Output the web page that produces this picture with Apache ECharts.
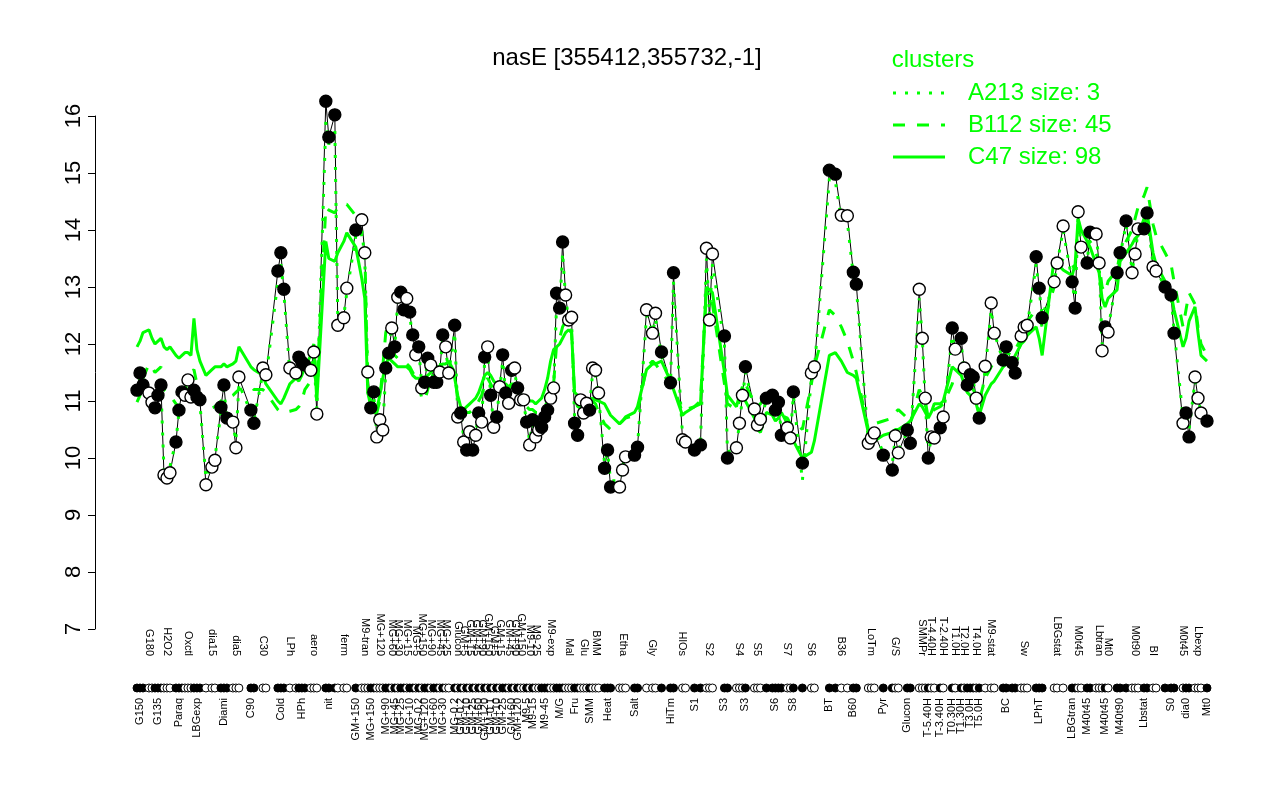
<!DOCTYPE html>
<html>
<head>
<meta charset="utf-8">
<title>nasE</title>
<script src="https://cdn.jsdelivr.net/npm/echarts@6.0.0/dist/echarts.min.js"></script>
<style>
  html, body { margin: 0; padding: 0; background: #fff; }
  #chart { width: 1280px; height: 800px; }
</style>
</head>
<body>
<div id="chart"></div>
<script>
// Samples in plotting order. '' is an empty position between samples.
const categories = [
  'G150','G150','G150','',
  'G180','G180',
  'G135','G135','G135',
  'H2O2','H2O2','H2O2','',
  'Paraq','Paraq','Paraq',
  'Oxctl','Oxctl','Oxctl',
  'LBGexp','LBGexp','LBGexp','',
  'dia15','','dia15','dia15','',
  'Diami','Diami','Diami','',
  'dia5','dia5','dia5','','','',
  'C90','C90','','',
  'C30','C30','','','',
  'Cold','Cold','Cold','',
  'LPh','','LPh',
  'HPh','HPh','HPh','',
  'aero','aero','aero','','',
  'nit','nit','','nit',
  'ferm','','ferm','ferm','','',
  'GM+150','',
  'M9-tran','M9-tran','M9-tran',
  'MG+150','MG+150',
  'MG+120','MG+120','MG+120',
  'MG+90','MG+90',
  'MG+60',
  'MG+45',
  'MG+30',
  'MG+25','MG+25',
  'MG+15',
  'MG+10','MG+10',
  'MG+5',
  'MG-0.2',
  'MG+150',
  'MG+120','MG+120',
  'MG+90',
  'MG+60','MG+60',
  'MG+45',
  'MG+30',
  'MG+25','MG+25','',
  'MG-0.2',
  'Glucon',
  'GM-0.2',
  'GM+5',
  'GM+10',
  'GM+15',
  'GM+25',
  'GM+45',
  'GM+60',
  'GM+90',
  'GM+120',
  'GM+150',
  'GM-0.1',
  'GM+5',
  'GM+10',
  'GM+15',
  'GM+25','GM+25',
  'GM+45',
  'GM+60',
  'GM+90',
  'GM+120',
  'GM+150','GM+150',
  'M9-5',
  'M9-10',
  'M9-15',
  'M9-25','M9-25',
  'M9-45','M9-45','M9-45',
  'M9-exp','M9-exp',
  'M/G','M/G','M/G',
  'Mal','Mal','Mal',
  'Fru','Fru',
  'Glu','Glu','Glu',
  'SMM',
  'BMM','BMM','BMM','',
  'Heat','Heat','Heat','','',
  'Etha','Etha','Etha','','',
  'Salt','Salt','','',
  'Gly','','Gly','Gly','',
  'HiTm','','','HiTm','HiTm','','',
  'HlOs','HlOs','','',
  'S1','','S1','',
  'S2','S2','S2','','','',
  'S3','S3','','',
  'S4','S4','S4',
  'S3','','',
  'S5','S5','S5','',
  'S6','','S6','S6','S6','S6','',
  'S7','S7',
  'S8','','','S8','','',
  'S6','S6','','','','',
  'BT','','BT','',
  'B36','','B36','',
  'B60','B60','','','',
  'LoTm','LoTm','LoTm','','',
  'Pyr','','','Pyr',
  'G/S','G/S','','',
  'Glucon','Glucon','','',
  'SMMPr','SMMPr','SMMPr',
  'T-5.40H',
  'T-4.40H','T-4.40H','',
  'T-3.40H',
  'T-2.40H','','',
  'T0.30H',
  'T1.0H','',
  'T1.30H',
  'T2.0H',
  'T3.0H','T3.0H','T3.0H',
  'T4.0H',
  'T5.0H','',
  'M9-stat','','M9-stat','M9-stat','','',
  'BC','BC','','BC','BC','',
  'Sw','Sw','Sw','','',
  'LPhT','LPhT','LPhT','','','',
  'LBGstat','LBGstat','','LBGstat','','',
  'LBGtran','LBGtran',
  'M0t45','M0t45','',
  'M40t45','M40t45','',
  'Lbtran','Lbtran','Lbtran',
  'M40t45',
  'Mt0','','',
  'M40t90','M40t90','','M40t90','',
  'M0t90','M0t90','M0t90','',
  'Lbstat','Lbstat','',
  'BI','BI','','',
  'S0','','S0','S0','','',
  'M0t45',
  'dia0','dia0','',
  'Lbexp','Lbexp','Lbexp','',
  'Mt0'
];

// nasE expression, one value per sample
const expr = [
  11.19, 11.49, 11.28, 11.14, 10.98, 10.88, 11.10, 11.28, 9.70, 9.65,
  9.74, 10.28, 10.84, 11.16, 11.10, 11.37, 11.07, 11.19, 11.07, 11.02,
  9.53, 9.84, 9.96, 10.89, 11.28, 10.70, 10.63, 10.18, 11.42, 10.84,
  10.61, 11.58, 11.46, 13.28, 13.60, 12.96, 11.58, 11.49, 11.77, 11.68,
  11.63, 11.54, 11.86, 10.77, 16.26, 15.63, 16.02, 12.33, 12.46, 12.98,
  14.00, 14.18, 13.60, 11.51, 10.88, 11.16, 10.37, 10.67, 10.49, 11.58,
  11.84, 12.28, 11.95, 12.82, 12.91, 12.60, 12.80, 12.56, 12.16, 11.81,
  11.95, 11.23, 11.33, 11.75, 11.63, 11.33, 11.33, 11.51, 12.16, 11.95,
  11.49, 12.33, 10.72, 10.79, 10.28, 10.14, 10.46, 10.14, 10.40, 10.79,
  10.63, 11.77, 11.95, 11.10, 10.54, 10.72, 11.25, 11.81, 11.14, 10.96,
  11.54, 11.58, 11.23, 11.02, 11.02, 10.63, 10.23, 10.67, 10.37, 10.49,
  10.54, 10.72, 10.84, 11.05, 11.23, 12.89, 12.63, 13.79, 12.86, 12.42,
  12.47, 10.61, 10.40, 11.02, 10.79, 10.96, 10.84, 11.58, 11.54, 11.14,
  9.82, 10.14, 9.49, 9.49, 9.79, 10.02, 10.05, 10.19, 12.60, 12.19,
  12.54, 11.86, 11.32, 13.25, 10.32, 10.28, 10.14, 10.23, 13.68, 12.42,
  13.58, 12.14, 10.00, 10.18, 10.61, 11.10, 11.60, 10.86, 10.58, 10.68,
  11.05, 11.10, 10.84, 10.98, 10.40, 10.53, 10.35, 11.16, 9.91, 11.49,
  11.60, 15.05, 14.98, 14.26, 14.25, 13.26, 13.05, 10.26, 10.35, 10.44,
  10.05, 9.79, 10.39, 10.09, 10.49, 10.26, 12.96, 12.10, 11.05, 10.00,
  10.37, 10.35, 10.53, 10.72, 12.28, 11.91, 12.10, 11.58, 11.28, 11.46,
  11.42, 11.05, 10.70, 11.61, 12.72, 12.19, 11.72, 11.95, 11.67, 11.49,
  12.14, 12.30, 12.33, 13.53, 12.98, 12.46, 13.09, 13.42, 14.07, 13.09,
  12.63, 14.32, 13.70, 13.42, 13.96, 13.93, 13.42, 11.88, 12.30, 12.21,
  13.25, 13.60, 14.16, 13.25, 13.58, 14.02, 14.02, 14.30, 13.35, 13.28,
  13.00, 12.86, 12.19, 10.61, 10.79, 10.37, 11.42, 11.05, 10.79, 10.65
];

// cluster profiles (green lines)
const clusterA213 = [
  11.15, 11.40, 11.25, 11.10, 11.00, 10.90, 11.05, 11.20, 9.80, 9.75,
  9.85, 10.30, 10.80, 11.10, 11.05, 11.30, 11.05, 11.15, 11.00, 10.95,
  9.65, 9.90, 10.00, 10.80, 11.20, 10.70, 10.60, 10.30, 11.30, 10.80,
  10.65, 11.50, 11.40, 13.10, 13.40, 12.90, 11.50, 11.45, 11.70, 11.60,
  11.60, 11.50, 11.80, 10.85, 15.90, 15.50, 15.80, 12.40, 12.50, 12.90,
  13.90, 14.00, 13.50, 11.45, 10.90, 11.10, 10.45, 10.65, 10.55, 11.50,
  11.80, 12.20, 11.95, 12.75, 12.85, 12.60, 12.70, 12.50, 12.10, 11.85,
  11.90, 11.30, 11.35, 11.70, 11.60, 11.35, 11.40, 11.50, 12.10, 11.90,
  11.50, 12.20, 10.80, 10.80, 10.35, 10.25, 10.50, 10.25, 10.45, 10.75,
  10.65, 11.70, 11.85, 11.10, 10.60, 10.75, 11.20, 11.70, 11.15, 11.00,
  11.50, 11.50, 11.20, 11.00, 10.95, 10.65, 10.30, 10.60, 10.40, 10.50,
  10.55, 10.70, 10.80, 11.00, 11.20, 12.70, 12.60, 13.60, 12.80, 12.45,
  12.40, 10.70, 10.50, 11.00, 10.80, 10.90, 10.85, 11.50, 11.45, 11.10,
  9.90, 10.10, 9.60, 9.60, 9.85, 10.05, 10.10, 10.20, 12.50, 12.20,
  12.45, 11.80, 11.30, 13.10, 10.40, 10.35, 10.20, 10.25, 13.50, 12.50,
  13.40, 12.00, 10.10, 10.20, 10.60, 11.05, 11.50, 10.85, 10.60, 10.70,
  11.00, 11.05, 10.85, 10.95, 10.45, 10.55, 10.40, 11.10, 9.60, 11.40,
  11.55, 14.90, 14.85, 14.20, 14.15, 13.20, 13.00, 10.30, 10.40, 10.45,
  10.10, 9.90, 10.35, 10.15, 10.45, 10.30, 12.80, 12.10, 11.00, 10.05,
  10.35, 10.40, 10.50, 10.70, 12.15, 11.90, 12.00, 11.55, 11.30, 11.40,
  11.35, 11.05, 10.75, 11.55, 12.60, 12.20, 11.70, 11.90, 11.65, 11.50,
  12.10, 12.25, 12.30, 13.40, 12.95, 12.50, 13.05, 13.40, 14.00, 13.10,
  12.70, 14.25, 13.70, 13.45, 13.90, 13.90, 13.45, 12.00, 12.30, 12.25,
  13.20, 13.55, 14.10, 13.30, 13.55, 14.00, 14.05, 14.25, 13.40, 13.30,
  13.00, 12.85, 12.25, 10.70, 10.80, 10.50, 11.35, 11.05, 10.80, 10.70
];

const clusterB112 = [
  10.98, 11.10, 11.40, 11.65, 11.60, 11.50, 11.55, 11.60, 11.20, 11.15,
  11.10, 10.95, 10.90, 11.00, 11.20, 11.40, 11.50, 11.55, 11.30, 11.05,
  10.90, 10.88, 10.90, 11.00, 11.05, 11.05, 11.10, 11.15, 11.20, 11.25,
  11.20, 11.20, 11.15, 10.85, 10.80, 10.80, 10.82, 10.85, 10.90, 11.00,
  11.20, 11.35, 11.50, 11.30, 14.40, 14.35, 14.30, 14.40, 14.45, 14.45,
  14.25, 13.90, 13.70, 11.15, 10.90, 10.80, 10.79, 11.00, 11.60, 12.20,
  12.40, 12.00, 11.80, 11.75, 11.70, 11.70, 11.65, 11.60, 11.50, 11.40,
  11.30, 11.05, 11.00, 11.20, 11.40, 11.45, 11.50, 11.60, 11.70, 11.75,
  11.70, 11.50, 11.00, 10.90, 10.85, 10.80, 10.80, 10.85, 10.90, 11.00,
  11.10, 11.30, 11.40, 11.30, 11.20, 11.15, 11.20, 11.30, 11.25, 11.15,
  11.20, 11.25, 11.15, 11.05, 11.00, 10.90, 10.85, 10.85, 10.80, 10.80,
  10.85, 10.90, 11.00, 11.10, 11.30, 12.00, 12.10, 12.30, 12.40, 12.30,
  12.20, 11.10, 10.90, 10.90, 10.85, 10.90, 10.95, 11.00, 10.95, 10.80,
  10.60, 10.55, 10.50, 10.60, 10.65, 10.70, 10.75, 10.80, 11.60, 11.70,
  11.65, 11.50, 11.30, 11.25, 10.80, 10.85, 10.90, 11.00, 13.00, 12.80,
  12.70, 11.30, 10.95, 10.85, 11.00, 11.20, 11.30, 10.95, 10.90, 10.95,
  11.10, 11.15, 11.00, 10.90, 10.75, 10.70, 10.60, 10.65, 10.50, 11.30,
  11.60, 12.60, 12.50, 12.30, 12.05, 11.70, 11.50, 10.50, 10.55, 10.60,
  10.65, 10.70, 10.80, 10.85, 10.70, 10.60, 11.20, 11.10, 11.00, 10.70,
  10.80, 10.85, 10.90, 10.95, 11.30, 11.50, 11.60, 11.40, 11.30, 11.25,
  11.20, 11.10, 11.00, 11.40, 11.60, 11.70, 11.80, 11.85, 11.80, 11.90,
  12.10, 12.30, 12.40, 12.60, 12.50, 12.30, 13.00, 13.30, 13.50, 13.40,
  13.30, 14.10, 13.90, 13.70, 13.80, 13.60, 13.40, 13.00, 12.90, 13.10,
  13.30, 13.60, 13.80, 14.00, 14.20, 14.40, 14.60, 14.75, 14.10, 13.90,
  13.60, 13.40, 13.10, 12.30, 12.60, 12.90, 12.70, 12.30, 12.00, 11.80
];

const clusterC47 = [
  11.95, 12.05, 12.20, 12.25, 12.10, 12.00, 12.05, 12.10, 11.95, 11.90,
  11.95, 11.80, 11.75, 11.80, 11.85, 11.85, 11.80, 12.45, 11.90, 11.70,
  11.45, 11.55, 11.60, 11.60, 11.65, 11.60, 11.65, 11.70, 11.95, 11.60,
  11.55, 11.45, 11.30, 11.00, 10.95, 11.05, 11.30, 11.40, 11.35, 11.45,
  11.60, 11.80, 12.00, 11.00, 13.80, 13.50, 13.45, 13.60, 13.80, 13.95,
  13.70, 13.15, 12.80, 11.15, 11.00, 10.90, 10.85, 11.10, 11.40, 11.65,
  11.75, 11.70, 11.65, 11.60, 11.60, 11.60, 11.60, 11.55, 11.45, 11.40,
  11.40, 11.37, 11.40, 11.45, 11.50, 11.55, 11.60, 11.60, 11.65, 11.65,
  11.70, 11.40, 11.10, 10.90, 10.85, 10.90, 10.95, 11.00, 11.05, 11.15,
  11.30, 11.45, 11.50, 11.45, 11.35, 11.30, 11.25, 11.30, 11.30, 11.25,
  11.30, 11.30, 11.20, 11.10, 11.07, 11.05, 11.00, 11.00, 10.95, 11.00,
  11.05, 11.20, 11.40, 11.70, 11.90, 11.95, 12.00, 12.10, 12.20, 12.25,
  12.20, 11.15, 11.10, 11.05, 11.02, 11.00, 11.02, 11.05, 11.02, 11.00,
  10.95, 10.85, 10.75, 10.60, 10.65, 10.72, 10.80, 10.90, 11.55, 11.65,
  11.65, 11.70, 11.35, 11.20, 10.75, 10.80, 10.90, 10.95, 13.00, 12.95,
  12.90, 11.50, 11.10, 10.90, 11.10, 11.25, 11.00, 10.70, 10.50, 10.45,
  10.80, 10.75, 10.65, 10.70, 10.80, 10.60, 10.45, 10.30, 10.00, 10.10,
  10.30, 11.80, 11.85, 11.70, 11.50, 11.45, 11.40, 10.45, 10.30, 10.30,
  10.40, 10.45, 10.50, 10.50, 10.60, 10.65, 10.95, 10.90, 10.80, 10.70,
  10.80, 10.95, 10.95, 11.00, 11.60, 11.55, 11.45, 11.30, 11.15, 11.10,
  11.00, 10.95, 10.75, 11.10, 11.30, 11.35, 11.60, 11.65, 11.70, 11.80,
  12.00, 12.05, 12.15, 12.30, 12.10, 11.80, 13.50, 13.40, 13.30, 13.20,
  13.40, 14.20, 14.00, 13.80, 13.70, 13.40, 13.25, 12.80, 12.65, 12.80,
  12.95, 13.45, 13.60, 13.75, 13.85, 13.90, 14.20, 14.30, 13.60, 13.40,
  13.10, 12.90, 12.60, 11.95, 12.10, 12.40, 12.65, 12.20, 11.80, 11.70
];

const clusterNames = ['A213', 'B112', 'C47'];
const clusterSizes = [3, 45, 98];
const clusterDash = [[3, 9], [12, 12], null];
const clusterData = [clusterA213, clusterB112, clusterC47];
const chartTitle = 'nasE [355412,355732,-1]';

const GREEN = '#00ff00';
const FONT = '"Liberation Sans", Arial, sans-serif';

// map each axis position to its sample (or -1 for an empty position)
const slot = [];
let nSamples = 0;
categories.forEach(c => slot.push(c === '' ? -1 : nSamples++));
if (nSamples !== expr.length) console.warn('sample count mismatch', nSamples, expr.length);
const aligned = arr => slot.map(j => (j < 0 ? null : arr[j]));

// consecutive samples with the same name form a condition group;
// groups alternate filled / open symbols, labels go below / above
const groupOf = [];
const groups = [];
let prevName = null;
categories.forEach((c, i) => {
  if (c === '') { groupOf.push(-1); return; }
  if (c !== prevName) groups.push([]);
  groups[groups.length - 1].push(i);
  groupOf.push(groups.length - 1);
  prevName = c;
});
const isFilled = i => groupOf[i] % 2 === 0;
const labelSide = categories.map(() => null);
groups.forEach((g, k) => {
  labelSide[g[Math.floor((g.length - 1) / 2)]] = k % 2 === 0 ? 'bottom' : 'top';
});

const exprAligned = aligned(expr);
const marker = (v, i) => (v == null ? '-' : { value: v, itemStyle: { color: isFilled(i) ? '#000' : '#fff' } });

const chart = echarts.init(document.getElementById('chart'));

const graphic = [
  { type: 'text', x: 627, y: 58,
    style: { text: chartTitle, font: '24px ' + FONT, fill: '#000', align: 'center', verticalAlign: 'middle' } },
  { type: 'text', x: 933, y: 60,
    style: { text: 'clusters', font: '24px ' + FONT, fill: GREEN, align: 'center', verticalAlign: 'middle' } }
];
clusterNames.forEach((name, k) => {
  const y = 93 + k * 32;
  graphic.push({ type: 'line', shape: { x1: 893, y1: y, x2: 945, y2: y },
    style: { stroke: GREEN, lineWidth: 3, lineDash: clusterDash[k] } });
  graphic.push({ type: 'text', x: 968, y: y,
    style: { text: name + ' size: ' + clusterSizes[k], font: '24px ' + FONT, fill: GREEN, verticalAlign: 'middle' } });
});

const clusterSeries = clusterNames.map((name, k) => ({
  name: name,
  type: 'line',
  data: aligned(clusterData[k]),
  connectNulls: true,
  symbol: 'none',
  clip: false,
  silent: true,
  z: 3,
  lineStyle: { color: GREEN, width: 3, type: clusterDash[k] || 'solid' }
}));

chart.setOption({
  animation: false,
  backgroundColor: '#fff',
  textStyle: { fontFamily: FONT },
  grid: [
    { left: 137, right: 73, top: 116, height: 513 },
    { left: 137, right: 73, top: 684, height: 8 }
  ],
  xAxis: [
    { gridIndex: 0, type: 'category', data: categories, boundaryGap: false, show: false },
    { gridIndex: 1, type: 'category', data: categories, boundaryGap: false, position: 'bottom',
      axisLine: { show: false }, axisTick: { show: false },
      axisLabel: { interval: i => labelSide[i] === 'bottom', rotate: 90, fontSize: 11,
        color: '#000', margin: 6, fontFamily: FONT } },
    { gridIndex: 1, type: 'category', data: categories, boundaryGap: false, position: 'top',
      axisLine: { show: false }, axisTick: { show: false },
      axisLabel: { interval: i => labelSide[i] === 'top', rotate: 90, fontSize: 11,
        color: '#000', margin: 28, fontFamily: FONT } }
  ],
  yAxis: [
    { gridIndex: 0, type: 'value', min: 7, max: 16, interval: 1, offset: 42,
      axisLine: { show: true, lineStyle: { color: '#000', width: 1 } },
      axisTick: { show: true, length: 7, lineStyle: { color: '#000', width: 1 } },
      axisLabel: { rotate: 90, fontSize: 22, color: '#000', margin: 10, fontFamily: FONT },
      splitLine: { show: false } },
    { gridIndex: 1, type: 'value', min: -1, max: 1, show: false }
  ],
  graphic: graphic,
  series: [
    { type: 'line', data: exprAligned, connectNulls: true, symbol: 'none', clip: false, silent: true, z: 2,
      lineStyle: { color: '#000', width: 1 } },
    ...clusterSeries,
    { type: 'scatter', data: exprAligned.map(marker), symbol: 'circle', symbolSize: 12,
      clip: false, silent: true, z: 5,
      itemStyle: { borderColor: '#000', borderWidth: 1.4, opacity: 1 } },
    { type: 'scatter', xAxisIndex: 1, yAxisIndex: 1, silent: true,
      data: categories.map((c, i) => (c === '' ? '-' : { value: 0, itemStyle: { color: isFilled(i) ? '#000' : '#fff' } })),
      symbol: 'circle', symbolSize: 8,
      itemStyle: { borderColor: '#000', borderWidth: 1, opacity: 1 } }
  ]
});
</script>
</body>
</html>
